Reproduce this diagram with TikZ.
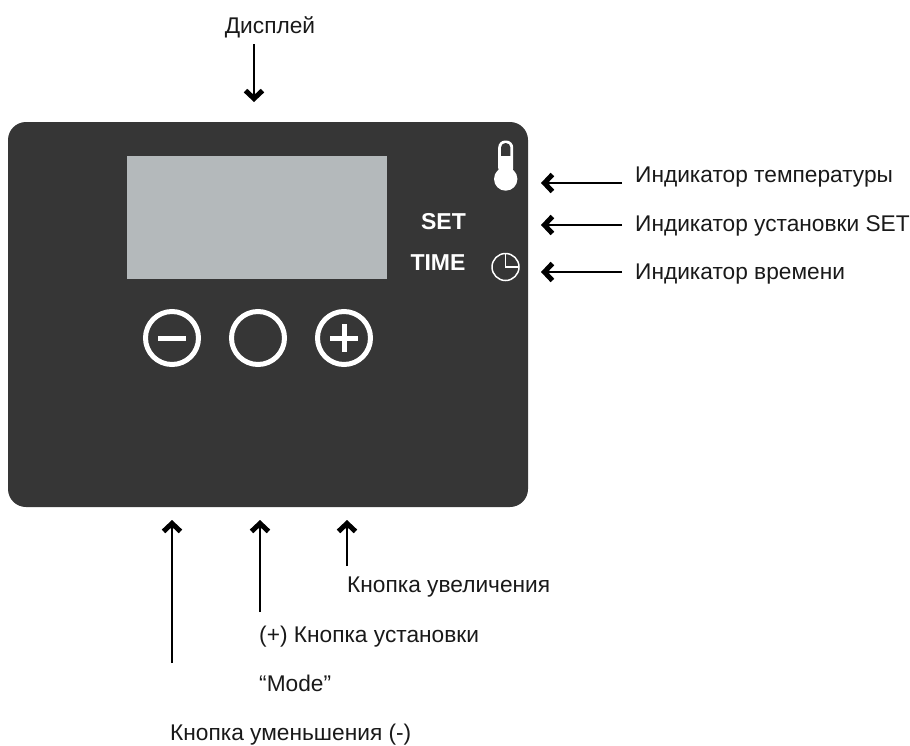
\documentclass[tikz,border=0pt]{standalone}
\usepackage{fontspec}
\setmainfont{Liberation Sans}
\usetikzlibrary{arrows.meta}
\definecolor{panelgray}{HTML}{363636}
\definecolor{screengray}{HTML}{B4B9BB}
\tikzset{
  lbl/.style={font=\fontsize{22.7}{26}\selectfont,inner sep=0pt,text=black!90},
  ledtext/.style={font=\fontsize{23}{26}\selectfont\bfseries,text=white,inner sep=0pt},
  pointer/.style={draw,line width=1.4pt,-{Straight Barb[length=8pt,width=17pt,line width=5pt]}},
  roundbtn/.style={circle,draw=white,line width=5pt,minimum size=53pt,inner sep=0pt},
}
\begin{document}
\begin{tikzpicture}[x=1pt,y=-1pt]
\useasboundingbox (0,0) rectangle (910,745);
\def\btnY{338}
\fill[panelgray,rounded corners=18pt] (8,122) rectangle (528,507);
\fill[screengray] (127,156) rectangle (387,279);
\node[roundbtn] (minusbtn) at (172,\btnY) {};
\node[roundbtn] (modebtn) at (258,\btnY) {};
\node[roundbtn] (plusbtn) at (344,\btnY) {};
\fill[white] (158,335.5) rectangle (186,340.5);
\fill[white] (330,335.5) rectangle (358,340.5);
\fill[white] (341.5,324) rectangle (346.5,352);
%thermometer
\fill[white] (505.7,179) circle (11.7);
\fill[white,rounded corners=7pt] (498.2,175) -- (498.2,140.5) -- (513.2,140.5) -- (513.2,175) -- cycle;
\fill[panelgray,rounded corners=4.5pt] (501,160) -- (501,143) -- (510.4,143) -- (510.4,160) -- cycle;
\fill[white] (500,156) rectangle (511.4,162);
%clock
\draw[white,line width=1.5pt] (505.5,267) circle (13.5);
\draw[white,line width=1.5pt] (505.5,254) -- (505.5,267) -- (519,267);
\node[ledtext] (settext) at (443.5,222) {SET};
\node[ledtext] (timetext) at (438,263) {TIME};
%labels
\node[lbl] (displaylbl) at (270,27) {Дисплей};
\node[lbl,anchor=west] (templbl) at (635,177) {Индикатор температуры};
\node[lbl,anchor=west] (setlbl) at (635,226) {Индикатор установки SET};
\node[lbl,anchor=west] (timelbl) at (635,274) {Индикатор времени};
\node[lbl,anchor=west] (pluslbl) at (347,587) {Кнопка увеличения};
\node[lbl,anchor=west] (modelbl) at (259,637) {(+) Кнопка установки};
\node[lbl,anchor=west] (quotelbl) at (259,683) {“Mode”};
\node[lbl,anchor=west] (minuslbl) at (170,735) {Кнопка уменьшения (-)};
%arrow ends
\coordinate (displaystart) at (254,44);
\coordinate (displaytip) at (254,102);
\coordinate (tempstart) at (622,183);
\coordinate (temptip) at (541,183);
\coordinate (setstart) at (622,225);
\coordinate (settip) at (541,225);
\coordinate (timestart) at (622,272);
\coordinate (timetip) at (541,272);
\coordinate (plusstart) at (347,566);
\coordinate (plustip) at (347,520);
\coordinate (modestart) at (260,612);
\coordinate (modetip) at (260,520);
\coordinate (minusstart) at (172,663);
\coordinate (minustip) at (172,520);
\path[pointer] (displaystart) -- (displaytip);
\path[pointer] (tempstart) -- (temptip);
\path[pointer] (setstart) -- (settip);
\path[pointer] (timestart) -- (timetip);
\path[pointer] (plusstart) -- (plustip);
\path[pointer] (modestart) -- (modetip);
\path[pointer] (minusstart) -- (minustip);
\end{tikzpicture}
\end{document}
